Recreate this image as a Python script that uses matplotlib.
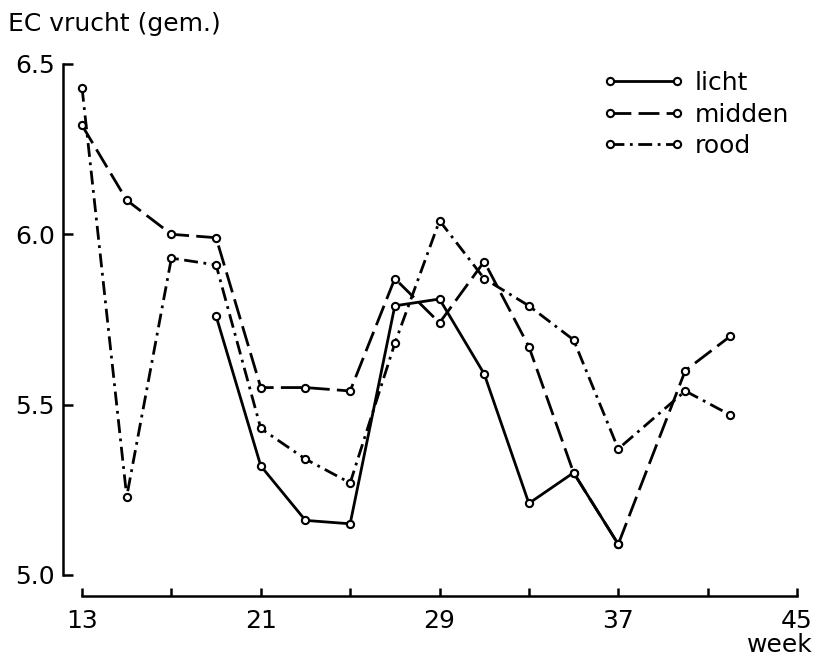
#
# EC of the fruit per week for three fruit colour classes
#
import numpy as np
import matplotlib.pyplot as plt

# weeks and mean EC values per colour class
weeks_licht = [19, 21, 23, 25, 27, 29, 31, 33, 35, 37]
ec_licht = [5.76, 5.32, 5.16, 5.15, 5.79, 5.81, 5.59, 5.21, 5.30, 5.09]

weeks_midden = [13, 15, 17, 19, 21, 23, 25, 27, 29, 31, 33, 35, 37, 40, 42]
ec_midden = [6.32, 6.10, 6.00, 5.99, 5.55, 5.55, 5.54, 5.87, 5.74, 5.92,
             5.67, 5.30, 5.09, 5.60, 5.70]

weeks_rood = [13, 15, 17, 19, 21, 23, 25, 27, 29, 31, 33, 35, 37, 40, 42]
ec_rood = [6.43, 5.23, 5.93, 5.91, 5.43, 5.34, 5.27, 5.68, 6.04, 5.87,
           5.79, 5.69, 5.37, 5.54, 5.47]

xTicks = [13, 21, 29, 37, 45]
xMinor = [17, 25, 33, 41]
yTicks = [5.0, 5.5, 6.0, 6.5]

plt.rcParams['font.family'] = ['DejaVu Sans']
fs = 18

fig = plt.figure(figsize=[8.17, 6.56], dpi=100, facecolor='w')
ax = fig.add_axes([63/817, 60/656, 734/817, 532/656])

lineKw = dict(color='k', linewidth=2.0, marker='o', markersize=5.2,
              markerfacecolor='w', markeredgecolor='k', markeredgewidth=1.5,
              clip_on=False)
ax.plot(weeks_licht, ec_licht, '-', label='licht', **lineKw)
ax.plot(weeks_midden, ec_midden, dashes=(7.5, 2.6), label='midden', **lineKw)
ax.plot(weeks_rood, ec_rood, dashes=(5.0, 2.0, 1.0, 2.0), label='rood',
        **lineKw)

ax.set_xlim(12.148, 45)
ax.set_ylim(4.938, 6.5)

# detached axes: y axis left of week 13, x axis below 5.0
for s in ['top', 'right']:
    ax.spines[s].set_visible(False)
for s in ['left', 'bottom']:
    ax.spines[s].set_linewidth(1.8)
ax.spines['left'].set_bounds(5.0, 6.5)
ax.spines['bottom'].set_bounds(13, 45)

ax.set_xticks(xTicks)
ax.set_xticks(xMinor, minor=True)
ax.set_yticks(yTicks)
ax.set_yticklabels(['%.1f' % v for v in yTicks])
ax.tick_params(axis='y', direction='in', length=7, width=1.8, pad=6,
               labelsize=fs)
ax.tick_params(axis='x', which='both', direction='in', length=6, width=1.8,
               pad=9, labelsize=fs)

fig.text(8/817, 1 - 24/656, 'EC vrucht (gem.)', fontsize=fs,
         ha='left', va='center')
fig.text(813/817, 1 - 645/656, 'week', fontsize=fs, ha='right', va='center')

ax.legend(loc='upper left', bbox_to_anchor=(602/817, 1 - 71/656),
          bbox_transform=fig.transFigure, frameon=False, fontsize=fs,
          numpoints=2, handlelength=3.3, handletextpad=0.4,
          labelspacing=0.3, borderpad=0, borderaxespad=0)

plt.savefig('out.png', dpi=100, facecolor='w')
plt.close()
